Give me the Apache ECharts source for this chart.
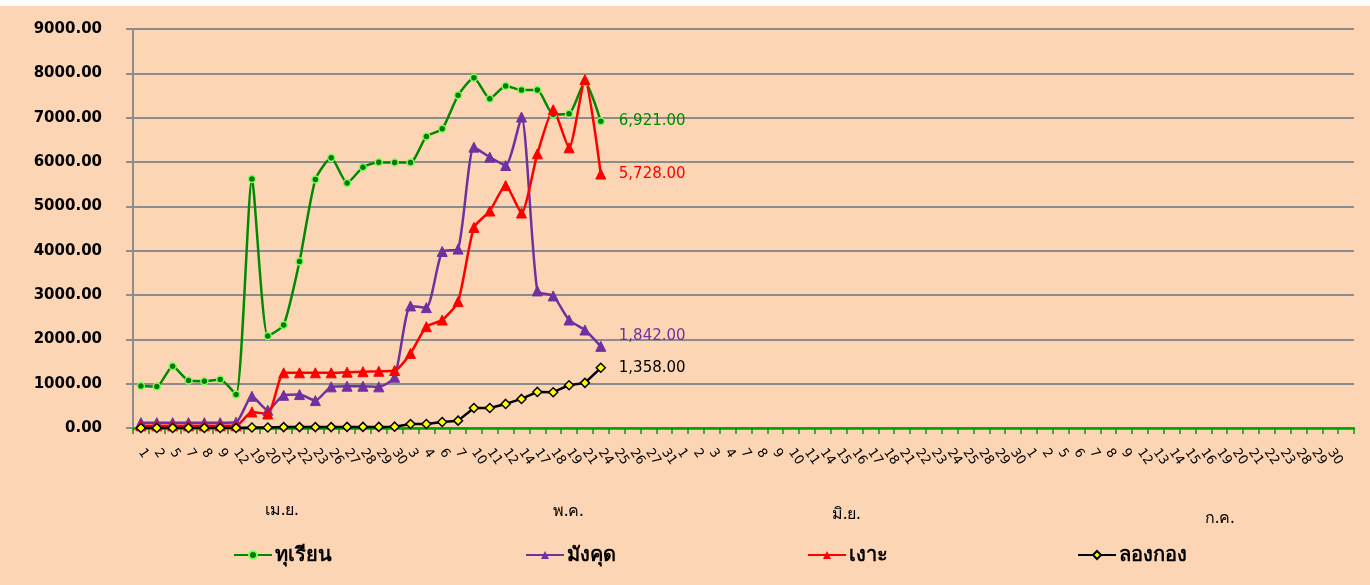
<!DOCTYPE html>
<html><head><meta charset="utf-8">
<script src="https://cdn.jsdelivr.net/npm/echarts@6/dist/echarts.min.js"></script>
<style>
html,body{margin:0;padding:0;background:#ffffff;}
#c{position:absolute;left:0;top:6px;width:1370px;height:579px;}
</style></head>
<body><div id="c"></div>
<script>
const categories = [
 '1','2','5','7','8','9','12','19','20','21','22','23','26','27','28','29','30',
 '3','4','6','7','10','11','12','14','17','18','19','21','24','25','26','27','31',
 '1','2','3','4','7','8','9','10','11','14','15','16','17','18','21','22','23','24','25','28','29','30',
 '1','2','5','6','7','8','9','12','13','14','15','16','19','20','21','22','23','28','29','30',''
];
const months = ['เม.ย.','พ.ค.','มิ.ย.','ก.ค.'];
const seriesNames = ['ทุเรียน','มังคุด','เงาะ','ลองกอง'];
const durian = [950,935,1395,1071,1056,1094,754,5618,2074,2323,3756,5603,6094,5528,5882,5995,5988,5988,6576,6750,7504,7903,7428,7715,7624,7624,7074,7089,7805,6921];
const mangosteen = [120,120,120,120,120,120,130,716,400,739,754,618,928,943,943,928,1146,2753,2715,3982,4035,6335,6109,5920,7014,3092,2979,2436,2210,1842];
const rambutan = [50,50,50,50,50,50,50,362,317,1244,1244,1244,1244,1260,1270,1280,1297,1682,2285,2436,2851,4525,4894,5468,4849,6184,7179,6320,7858,5728];
const longkong = [0,0,0,0,0,0,0,10,10,20,20,20,20,25,25,25,30,90,90,136,166,452,452,543,656,814,807,965,1018,1358];
const yTicks = {min:0, max:9000, interval:1000};

const fmt = v => Number(v).toLocaleString('en-US',{minimumFractionDigits:2, maximumFractionDigits:2});
const chart = echarts.init(document.getElementById('c'));
const lblFont = 'DejaVu Sans, sans-serif';
function mk(name, data, color, opt){
  return Object.assign({
    name, type:'line', data, smooth:0.2,
    lineStyle:{color, width:2.5},
    itemStyle:{color, borderColor:color},
    emphasis:{disabled:true},
    endLabel:{show:true, distance:18, color, fontFamily:lblFont, fontSize:15,
      formatter:p=>fmt(p.value)}
  }, opt||{});
}
chart.setOption({
  backgroundColor:'#FCD5B4',
  animation:false,
  grid:{left:133, right:16, top:23, bottom:157, containLabel:false},
  xAxis:{type:'category', data:categories, boundaryGap:true,
    axisLine:{lineStyle:{color:'#00A000', width:2.5}},
    axisTick:{show:true, interval:0, length:6, lineStyle:{color:'#00A000', width:1.5}},
    axisLabel:{interval:0, rotate:-55, margin:22, color:'#000', fontFamily:lblFont, fontSize:13},
    splitLine:{show:false}},
  yAxis:{type:'value', min:yTicks.min, max:yTicks.max, interval:yTicks.interval,
    axisLine:{show:true, lineStyle:{color:'#8C8C8C', width:2}},
    axisTick:{show:true, length:7, lineStyle:{color:'#8C8C8C', width:2}},
    axisLabel:{formatter:v=>v.toFixed(2), color:'#000', fontFamily:lblFont, fontWeight:'bold', fontSize:15, margin:31},
    splitLine:{lineStyle:{color:'#8C8C8C', width:2}}},
  legend:[0,1,2,3].map((i)=>({
    data:[seriesNames[i]], left:[228,520,802,1072][i], top:534,
    itemWidth:38, itemHeight:10, itemGap:4,
    textStyle:{color:'#000', fontSize:20, fontWeight:'bold', fontFamily:'Noto Sans, sans-serif', padding:[0,0,0,-2]}
  })),
  graphic:months.map((m,i)=>({type:'text', left:[265,553,832,1205][i], top:[496,497,500,504][i],
    style:{text:m, fill:'#000', font:'16px Noto Sans, sans-serif'}})),
  series:[
    mk(seriesNames[0], durian, '#008A00', {symbol:'circle', symbolSize:7,
      itemStyle:{color:'#0A7A0A', borderColor:'#7CFF5A', borderWidth:1.5}}),
    mk(seriesNames[1], mangosteen, '#7030A0', {symbol:'triangle', symbolSize:10,
      endLabel:{show:true, distance:18, offset:[0,-10], color:'#7030A0', fontFamily:lblFont, fontSize:15, formatter:p=>fmt(p.value)}}),
    mk(seriesNames[2], rambutan, '#FF0000', {symbol:'triangle', symbolSize:10}),
    mk(seriesNames[3], longkong, '#000000', {smooth:false, symbol:'diamond', symbolSize:9,
      itemStyle:{color:'#FFFF00', borderColor:'#000', borderWidth:1.5}, lineStyle:{color:'#000', width:2.5},
      endLabel:{show:true, distance:18, color:'#000', fontFamily:lblFont, fontSize:15, formatter:p=>fmt(p.value)}})
  ]
});
</script></body></html>
